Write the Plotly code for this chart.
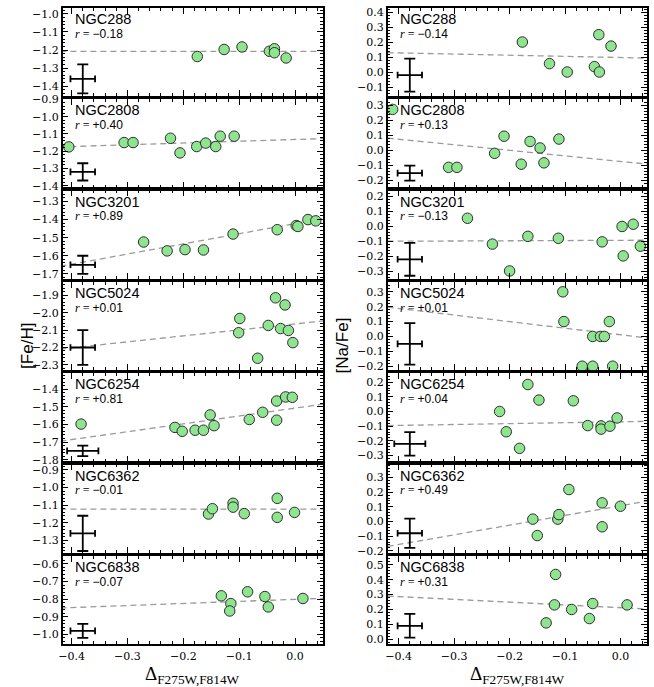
import plotly.graph_objects as go

W, H = 654, 687

clusters = ["NGC288", "NGC2808", "NGC3201", "NGC5024", "NGC6254", "NGC6362", "NGC6838"]

# delta_F275W,F814W vs [Fe/H]  (left column)
dx_fe_288 = [-0.175, -0.127, -0.095, -0.046, -0.037, -0.037, -0.016]
fe_288 = [-1.236, -1.197, -1.183, -1.207, -1.193, -1.215, -1.244]
dx_fe_2808 = [-0.405, -0.306, -0.29, -0.223, -0.206, -0.176, -0.16, -0.142, -0.134, -0.109]
fe_2808 = [-1.175, -1.15, -1.15, -1.125, -1.21, -1.173, -1.153, -1.173, -1.113, -1.113]
dx_fe_3201 = [-0.271, -0.229, -0.197, -0.164, -0.111, -0.032, 0.002, 0.005, 0.023, 0.037]
fe_3201 = [-1.524, -1.573, -1.566, -1.568, -1.48, -1.456, -1.433, -1.438, -1.40, -1.407]
dx_fe_5024 = [-0.099, -0.101, -0.067, -0.048, -0.035, -0.026, -0.018, -0.012, -0.004]
fe_5024 = [-2.033, -2.115, -2.262, -2.073, -1.914, -2.091, -1.955, -2.102, -2.172]
dx_fe_6254 = [-0.383, -0.215, -0.202, -0.179, -0.164, -0.152, -0.145, -0.082, -0.058, -0.033, -0.033, -0.017, -0.005]
fe_6254 = [-1.598, -1.617, -1.639, -1.633, -1.633, -1.546, -1.607, -1.572, -1.531, -1.467, -1.576, -1.444, -1.446]
dx_fe_6362 = [-0.155, -0.148, -0.111, -0.111, -0.091, -0.032, -0.032, -0.001]
fe_6362 = [-1.15, -1.12, -1.089, -1.111, -1.148, -1.061, -1.169, -1.141]
dx_fe_6838 = [-0.132, -0.115, -0.117, -0.085, -0.054, -0.048, 0.014]
fe_6838 = [-0.781, -0.825, -0.867, -0.758, -0.785, -0.844, -0.796]

# delta_F275W,F814W vs [Na/Fe]  (right column)
dx_na_288 = [-0.177, -0.128, -0.096, -0.047, -0.039, -0.038, -0.017]
na_288 = [0.20, 0.056, 0.0, 0.036, 0.249, 0.0, 0.173]
dx_na_2808 = [-0.411, -0.31, -0.295, -0.227, -0.21, -0.179, -0.163, -0.145, -0.138, -0.111]
na_2808 = [0.273, -0.112, -0.112, -0.019, 0.095, -0.091, 0.06, 0.017, -0.082, 0.076]
dx_na_3201 = [-0.276, -0.231, -0.2, -0.167, -0.112, -0.033, 0.003, 0.005, 0.023, 0.036]
na_3201 = [0.055, -0.118, -0.298, -0.066, -0.079, -0.103, 0.0, -0.197, 0.015, -0.132]
dx_na_5024 = [-0.104, -0.102, -0.069, -0.05, -0.05, -0.036, -0.029, -0.02, -0.014]
na_5024 = [0.30, 0.10, -0.20, -0.20, 0.0, 0.0, 0.0, 0.10, -0.20]
dx_na_6254 = [-0.218, -0.206, -0.182, -0.167, -0.147, -0.085, -0.059, -0.035, -0.035, -0.019, -0.006]
na_6254 = [0.0, -0.138, -0.251, 0.184, 0.078, 0.073, -0.096, -0.098, -0.12, -0.1, -0.044]
dx_na_6362 = [-0.158, -0.15, -0.113, -0.111, -0.093, -0.033, -0.033, 0.0]
na_6362 = [0.016, -0.096, 0.016, 0.047, 0.218, 0.127, -0.036, 0.104]
dx_na_6838 = [-0.134, -0.119, -0.117, -0.088, -0.056, -0.05, 0.012]
na_6838 = [0.11, 0.231, 0.436, 0.2, 0.139, 0.24, 0.231]

# correlation coefficients
r_fe = ["\u22120.18", "+0.40", "+0.89", "+0.01", "+0.81", "\u22120.01", "\u22120.07"]
r_na = ["\u22120.14", "+0.13", "\u22120.13", "+0.01", "+0.04", "+0.49", "+0.31"]

# dashed fits, value at x = fit_x[0] and fit_x[1]
fit_x = [-0.42, 0.05]
fit_fe = [[-1.208, -1.207], [-1.175, -1.127], [-1.658, -1.394], [-2.209, -2.047],
          [-1.695, -1.485], [-1.122, -1.122], [-0.85, -0.795]]
fit_na = [[0.129, 0.093], [0.082, -0.091], [-0.099, -0.092], [0.197, -0.011],
          [-0.096, -0.067], [-0.17, 0.14], [0.291, 0.203]]

# typical error crosses: x, y, err_x, err_y
err_fe = [[-0.38, -1.36, 0.022, 0.08], [-0.38, -1.32, 0.022, 0.05], [-0.38, -1.65, 0.022, 0.05],
          [-0.38, -2.20, 0.022, 0.10], [-0.38, -1.75, 0.028, 0.03], [-0.38, -1.26, 0.022, 0.10],
          [-0.38, -0.98, 0.022, 0.04]]
err_na = [[-0.38, -0.02, 0.022, 0.11], [-0.38, -0.15, 0.022, 0.05], [-0.38, -0.22, 0.022, 0.11],
          [-0.38, -0.05, 0.022, 0.14], [-0.38, -0.22, 0.028, 0.08], [-0.38, -0.08, 0.022, 0.10],
          [-0.38, 0.09, 0.022, 0.08]]

left = [(dx_fe_288, fe_288), (dx_fe_2808, fe_2808), (dx_fe_3201, fe_3201), (dx_fe_5024, fe_5024),
        (dx_fe_6254, fe_6254), (dx_fe_6362, fe_6362), (dx_fe_6838, fe_6838)]
right = [(dx_na_288, na_288), (dx_na_2808, na_2808), (dx_na_3201, na_3201), (dx_na_5024, na_5024),
         (dx_na_6254, na_6254), (dx_na_6362, na_6362), (dx_na_6838, na_6838)]

yr_fe = [[-1.455, -0.967], [-1.41, -0.899], [-1.727, -1.24], [-2.33, -1.823],
         [-1.81, -1.31], [-1.37, -0.87], [-1.055, -0.555]]
yr_na = [[-0.16, 0.427], [-0.245, 0.34], [-0.35, 0.24], [-0.226, 0.366],
         [-0.34, 0.26], [-0.213, 0.387], [-0.033, 0.56]]

serif = "DejaVu Serif"
sans = "Liberation Sans"


def px(x):
    return x / W


def py(y):
    return 1 - y / H


fig = go.Figure()
annotations = []
col_px = [(59, 321), (386, 647)]
xr = [[-0.416, 0.05], [-0.42, 0.048]]

for i in range(7):
    top = 2 + 92.83 * i
    bot = top + 89.5
    for j in range(2):
        k = 2 * i + j + 1
        sfx = "" if k == 1 else str(k)
        data = left[i] if j == 0 else right[i]
        fit = fit_fe[i] if j == 0 else fit_na[i]
        err = err_fe[i] if j == 0 else err_na[i]
        yr = yr_fe[i] if j == 0 else yr_na[i]
        rr = r_fe[i] if j == 0 else r_na[i]

        fig.add_trace(go.Scatter(x=fit_x, y=fit, mode="lines", xaxis="x" + sfx, yaxis="y" + sfx,
                                 line=dict(color="#9a9a9a", width=1.3, dash="6px,4px"),
                                 showlegend=False, hoverinfo="skip"))
        fig.add_trace(go.Scatter(x=[err[0]], y=[err[1]], mode="markers", xaxis="x" + sfx, yaxis="y" + sfx,
                                 marker=dict(size=1, color="rgba(0,0,0,0)"),
                                 error_x=dict(type="data", array=[err[2]], color="black", thickness=1.8, width=3.3),
                                 error_y=dict(type="data", array=[err[3]], color="black", thickness=1.8, width=5.5),
                                 showlegend=False))
        fig.add_trace(go.Scatter(x=data[0], y=data[1], mode="markers", xaxis="x" + sfx, yaxis="y" + sfx,
                                 marker=dict(size=10.5, color="#8fe58f", line=dict(color="#2e2e2e", width=1)),
                                 showlegend=False))

        x0, x1 = col_px[j]
        common = dict(showline=True, linecolor="black", linewidth=1.5, mirror="ticks",
                      ticks="inside", ticklen=6, tickwidth=1.1, tickcolor="black",
                      showgrid=False, zeroline=False,
                      tickfont=dict(family=serif, size=11, color="black"),
                      minor=dict(ticks="inside", ticklen=3, tickwidth=0.9, tickcolor="black", dtick=0.02))
        fig.layout["xaxis" + sfx] = dict(common, domain=[px(x0), px(x1)], range=xr[j],
                                         anchor="y" + sfx, tickmode="linear", tick0=0, dtick=0.1,
                                         tickformat=".1f", showticklabels=(i == 6),
                                         ticklabelstandoff=1)
        fig.layout["yaxis" + sfx] = dict(common, domain=[py(bot), py(top)], range=yr,
                                         anchor="x" + sfx, tickmode="linear", tick0=0, dtick=0.1,
                                         tickformat=".1f")

        tx = px(x0 + 10)
        annotations.append(dict(text=clusters[i], x=tx, y=py(top + 1), xref="paper", yref="paper",
                                xanchor="left", yanchor="top", showarrow=False,
                                font=dict(family=sans, size=14.5, color="black")))
        annotations.append(dict(text="<span style='font-family:Liberation Serif'><i>r</i> = </span>" + rr,
                                x=tx, y=py(top + 17), xref="paper", yref="paper",
                                xanchor="left", yanchor="top", showarrow=False,
                                font=dict(family=sans, size=12, color="black")))

annotations.append(dict(text="[Fe/H]", x=px(12), y=py(345), xref="paper", yref="paper",
                        textangle=-90, showarrow=False, font=dict(family=sans, size=17, color="black")))
annotations.append(dict(text="[Na/Fe]", x=px(341), y=py(345), xref="paper", yref="paper",
                        textangle=-90, showarrow=False, font=dict(family=sans, size=17, color="black")))
for x0, x1 in col_px:
    annotations.append(dict(text="\u0394<sub>F275W,F814W</sub>", x=px((x0 + x1) / 2), y=py(666),
                            xref="paper", yref="paper", xanchor="center", yanchor="top", showarrow=False,
                            font=dict(family="Liberation Serif", size=19, color="black")))

fig.update_layout(width=W, height=H, autosize=False, margin=dict(l=0, r=0, t=0, b=0),
                  paper_bgcolor="white", plot_bgcolor="white", annotations=annotations)

# drop the default body margin so the figure sits at the window corner
fig.write_html("out.html", config={"displayModeBar": False},
               post_script="document.body.style.margin='0px';")
